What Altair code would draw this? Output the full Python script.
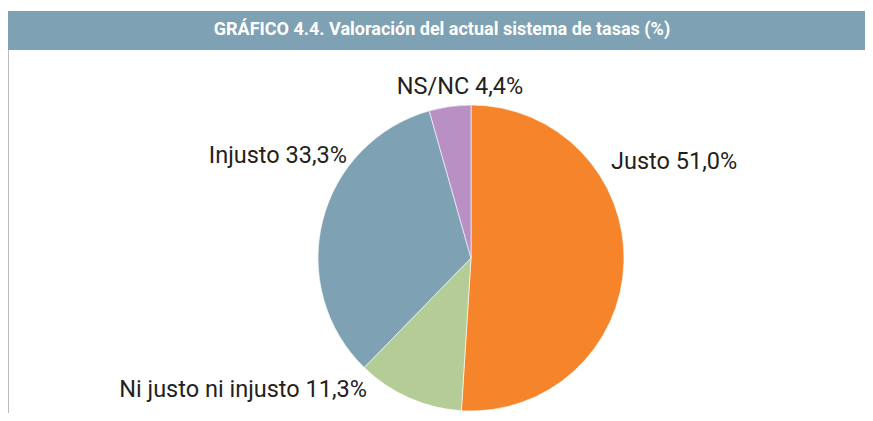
import altair as alt
import pandas as pd

categories = ["Justo", "Ni justo ni injusto", "Injusto", "NS/NC"]
values = [51.0, 11.3, 33.3, 4.4]
labels = ["Justo 51,0%", "Ni justo ni injusto 11,3%", "Injusto 33,3%", "NS/NC 4,4%"]
colors = ["#F5842A", "#B4CC96", "#7FA1B4", "#B890C4"]
title_text = "GRÁFICO 4.4. Valoración del actual sistema de tasas (%)"

df = pd.DataFrame({"cat": categories, "val": values, "label": labels, "ord": list(range(len(categories)))})

W, H = 857, 405
cx, cy, R = 463, 250, 153
FONT = "Roboto"

bar = alt.Chart(pd.DataFrame({"a": [0]})).mark_rect(color="#7FA1B4").encode(
    x=alt.value(0), x2=alt.value(W), y=alt.value(3), y2=alt.value(42)
)
title = alt.Chart(pd.DataFrame({"t": [title_text]})).mark_text(
    font=FONT, fontSize=18, fontWeight="bold", color="white", align="center", baseline="middle"
).encode(text="t:N", x=alt.value(434), y=alt.value(22))
border = alt.Chart(pd.DataFrame({"a": [0]})).mark_rule(color="#BBBBBB", strokeWidth=1).encode(
    x=alt.value(0.5), y=alt.value(42), y2=alt.value(H)
)

pie = alt.Chart(df).mark_arc(radius=R, stroke="white", strokeWidth=0.6).encode(
    theta=alt.Theta("val:Q", stack=True),
    order=alt.Order("ord:Q"),
    color=alt.Color("cat:N", scale=alt.Scale(domain=categories, range=colors), legend=None),
    x=alt.value(cx), y=alt.value(cy),
)

def lab(i, x, y, align):
    return alt.Chart(df.iloc[[i]]).mark_text(
        font=FONT, fontSize=23.5, color="#231F20", align=align, baseline="alphabetic"
    ).encode(text="label:N", x=alt.value(x), y=alt.value(y))

texts = [
    lab(0, 603, 161, "left"),
    lab(1, 359, 389, "right"),
    lab(2, 339, 155, "right"),
    lab(3, 452, 86, "center"),
]

chart = alt.layer(bar, title, border, pie, *texts).properties(
    width=W, height=H, padding=0,
    autosize=alt.AutoSizeParams(type="none"),
).configure_view(stroke=None)

chart.save("out.html", embed_options={"renderer": "svg", "actions": False})
